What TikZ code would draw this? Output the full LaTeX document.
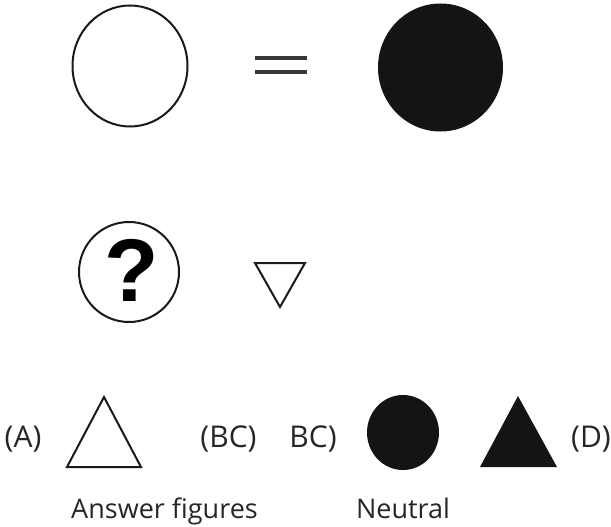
\documentclass[tikz,border=0pt]{standalone}
\usepackage{fontspec}
\setmainfont{Open Sans}
\newfontfamily\qfont{Liberation Sans}
\begin{document}
\begin{tikzpicture}[x=1pt,y=-1pt,
  shapeline/.style={line width=2pt, draw=black!90},
  lbl/.style={inner sep=0pt, anchor=base, font=\fontsize{30}{34}\selectfont, text=black!85},
  captext/.style={inner sep=0pt, anchor=base, font=\fontsize{27}{31}\selectfont, text=black!85}]
\useasboundingbox (0,0) rectangle (611,527);
% top row
\draw[shapeline] (130,66) ellipse [x radius=57.5, y radius=60.5];
\draw[line width=3.3pt, black!78] (255,58) -- (307,58);
\draw[line width=3.3pt, black!78] (255,72) -- (307,72);
\fill[black!92] (440.5,67.5) ellipse [x radius=62.5, y radius=64];
% middle row
\draw[shapeline] (129,272) circle [radius=50];
\node[inner sep=0pt, font=\qfont\bfseries\fontsize{89}{93}\selectfont] (q) at (132,270) {?};
\draw[shapeline, line join=miter] (255,263) -- (305,263) -- (280,307) -- cycle;
% bottom row
\node[lbl] (a) at (23,447) {(A)};
\draw[shapeline] (67,467) -- (104,397) -- (141,467) -- cycle;
\node[lbl] (bc1) at (228.5,447) {(BC)};
\node[lbl] (bc2) at (313,447) {BC)};
\fill[black!92] (403,432.5) ellipse [x radius=36, y radius=37.5];
\fill[black!92] (480,467) -- (518,396) -- (557,467) -- cycle;
\node[lbl] (d) at (591,447) {(D)};
\node[captext] (af) at (164.5,518) {Answer figures};
\node[captext] (ne) at (403,518) {Neutral};
\end{tikzpicture}
\end{document}
